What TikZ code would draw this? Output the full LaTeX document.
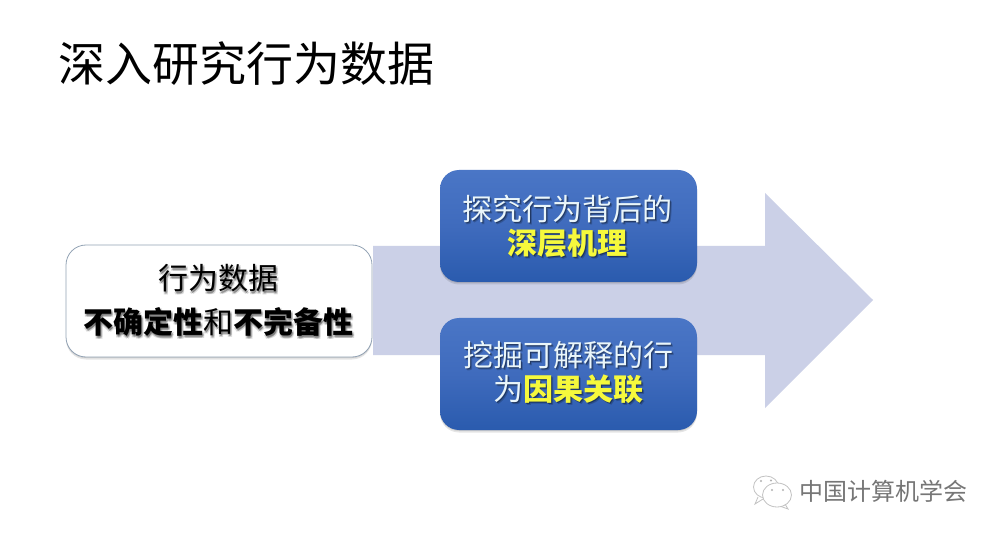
\documentclass[tikz,border=0pt]{standalone}
\usepackage{fontspec}
\setmainfont{Noto Sans CJK SC}
\usetikzlibrary{shadows}
\definecolor{arrowfill}{HTML}{CBD0E7}
\definecolor{bluetop}{HTML}{4A76C6}
\definecolor{bluemid}{HTML}{3F6BBD}
\definecolor{bluebot}{HTML}{2A5BAE}
\definecolor{boxline}{HTML}{93A3B5}
\definecolor{hilite}{HTML}{F6F93C}
\definecolor{paletxt}{HTML}{EAF6FA}
\definecolor{marktxt}{HTML}{767676}
\tikzset{
  softshadow/.style={general shadow={fill=black,opacity=.10,shadow xshift=0pt,shadow yshift=-1pt,scale=1.004},
                     general shadow={fill=black,opacity=.10,shadow xshift=0pt,shadow yshift=-2.5pt}},
  cardbox/.style={rounded corners=20pt,minimum width=306pt,minimum height=112pt,draw=boxline,line width=.8pt,
     fill=white,softshadow},
  bluebox/.style={rounded corners=19pt,minimum width=257pt,minimum height=112pt,draw=none,
     top color=bluetop,bottom color=bluebot,middle color=bluemid,softshadow},
  cardtext/.style={align=center,inner sep=0pt,font=\fontsize{30}{44}\selectfont,text=black},
  bluetext/.style={align=center,inner sep=0pt,font=\fontsize{30}{34}\selectfont,text=paletxt},
  ghost/.style={text opacity=#1,text=black},
  titletext/.style={anchor=west,inner sep=0pt,font=\fontsize{47}{50}\selectfont,text=black},
  marktext/.style={anchor=west,inner sep=0pt,font=\fontsize{24}{26}\selectfont,text=marktxt},
  bubble/.style={draw=black!24,line width=.8pt}
}
\begin{document}
\begin{tikzpicture}[x=1pt,y=-1pt]
\useasboundingbox (0,0) rectangle (998,534);
\fill[white] (0,0) rectangle (998,534);
% big arrow
\fill[arrowfill] (373,246) -- (765,246) -- (765,193) -- (873,300) -- (765,408) -- (765,355) -- (373,355) -- cycle;
% boxes
\node[cardbox] (data) at (219,301) {};
\node[bluebox] (deep) at (568.5,226) {};
\node[bluebox] (cause) at (568.5,374) {};
% soft text shadows, as in the reference
\foreach \dx/\dy/\op in {1.5/2/.22,2.5/3/.14,0.5/3/.14,2.5/1.5/.12}{
  \node[cardtext,ghost=\op] at (218+\dx,300+\dy) {行为数据\\\textbf{不确定性}和\textbf{不完备性}};
}
\foreach \dx/\dy/\op in {1/1.5/.35,2/2/.2}{
  \node[bluetext,ghost=\op] at (567+\dx,226+\dy) {探究行为背后的\\\textbf{深层机理}};
  \node[bluetext,ghost=\op] at (568+\dx,372+\dy) {挖掘可解释的行\\为\textbf{因果关联}};
}
% text
\node[cardtext] (datatext) at (218,300) {行为数据\\\textbf{不确定性}和\textbf{不完备性}};
\node[bluetext] (deeptext) at (567,226) {探究行为背后的\\\textcolor{hilite}{\textbf{深层机理}}};
\node[bluetext] (causetext) at (568,372) {挖掘可解释的行\\为\textcolor{hilite}{\textbf{因果关联}}};
\node[titletext] (title) at (58,64) {深入研究行为数据};
% watermark
\draw[bubble] (766,487) ellipse (12.5pt and 11pt);
\draw[bubble] (758,497) -- (755,504) -- (763,499);
\draw[bubble,fill=white] (777,495) ellipse (14.5pt and 12pt);
\draw[bubble] (785,504) -- (788,509) -- (781,506.5);
\fill[black!30] (761,481) circle (1.2pt) (771,480.5) circle (1.2pt) (772,490) circle (1.2pt) (783,490) circle (1.2pt);
\node[marktext] (mark) at (799,491) {中国计算机学会};
\end{tikzpicture}
\end{document}
